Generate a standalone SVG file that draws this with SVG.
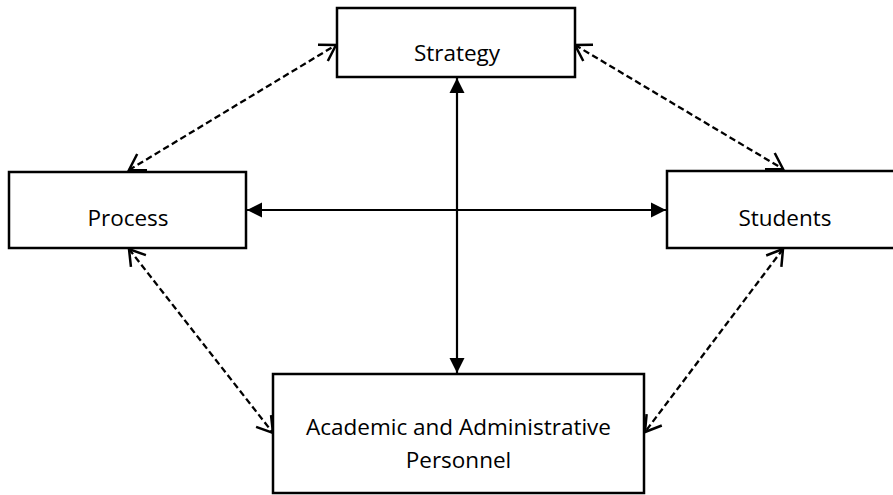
<svg xmlns="http://www.w3.org/2000/svg" width="893" height="495" viewBox="0 0 893 495">
  <style>
    .box { fill: #ffffff; stroke: #000000; stroke-width: 2.5; }
    .label { font-family: "Open Sans", "Noto Sans", "Liberation Sans", sans-serif; font-size: 22.5px; fill: #000000; text-anchor: middle; }
    .solid { stroke: #000000; stroke-width: 2.2; fill: none; marker-start: url(#filled); marker-end: url(#filled); }
    .dashed { stroke: #000000; stroke-width: 2.3; fill: none; stroke-dasharray: 6.5 3.5; marker-start: url(#open); marker-end: url(#open); }
  </style>
  <defs>
    <marker id="filled" markerUnits="userSpaceOnUse" viewBox="-16 -8 17 16" refX="0" refY="0" markerWidth="17" markerHeight="16" orient="auto-start-reverse">
      <polygon points="0,0 -15,-7.5 -15,7.5" fill="#000000" stroke="none"/>
    </marker>
    <marker id="open" markerUnits="userSpaceOnUse" viewBox="-18 -12 20 24" refX="0" refY="0" markerWidth="20" markerHeight="24" orient="auto-start-reverse">
      <path d="M -15.3,-9.5 L 0,0 L -15.3,9.5" fill="none" stroke="#000000" stroke-width="2.5" stroke-dasharray="none" stroke-linejoin="miter"/>
    </marker>
  </defs>
  <rect width="893" height="495" fill="#ffffff"/>

  <g id="connectors">
    <line class="solid" x1="457" y1="78" x2="457" y2="373"/>
    <line class="solid" x1="247" y1="210" x2="666" y2="210"/>
    <line class="dashed" x1="129" y1="170" x2="336" y2="45"/>
    <line class="dashed" x1="575" y1="45" x2="783" y2="169"/>
    <line class="dashed" x1="129" y1="249" x2="273" y2="433"/>
    <line class="dashed" x1="783" y1="249" x2="645" y2="432"/>
  </g>

  <g id="node-strategy">
    <rect class="box" x="337" y="8" width="238" height="69"/>
    <text class="label" x="457" y="61">Strategy</text>
  </g>
  <g id="node-process">
    <rect class="box" x="9" y="172" width="237" height="76"/>
    <text class="label" x="128" y="226">Process</text>
  </g>
  <g id="node-students">
    <rect class="box" x="667" y="171" width="236" height="77"/>
    <text class="label" x="785" y="226">Students</text>
  </g>
  <g id="node-personnel">
    <rect class="box" x="273" y="374" width="371" height="119"/>
    <text class="label" x="458.5" y="435">Academic and Administrative</text>
    <text class="label" x="458.5" y="468">Personnel</text>
  </g>
</svg>
